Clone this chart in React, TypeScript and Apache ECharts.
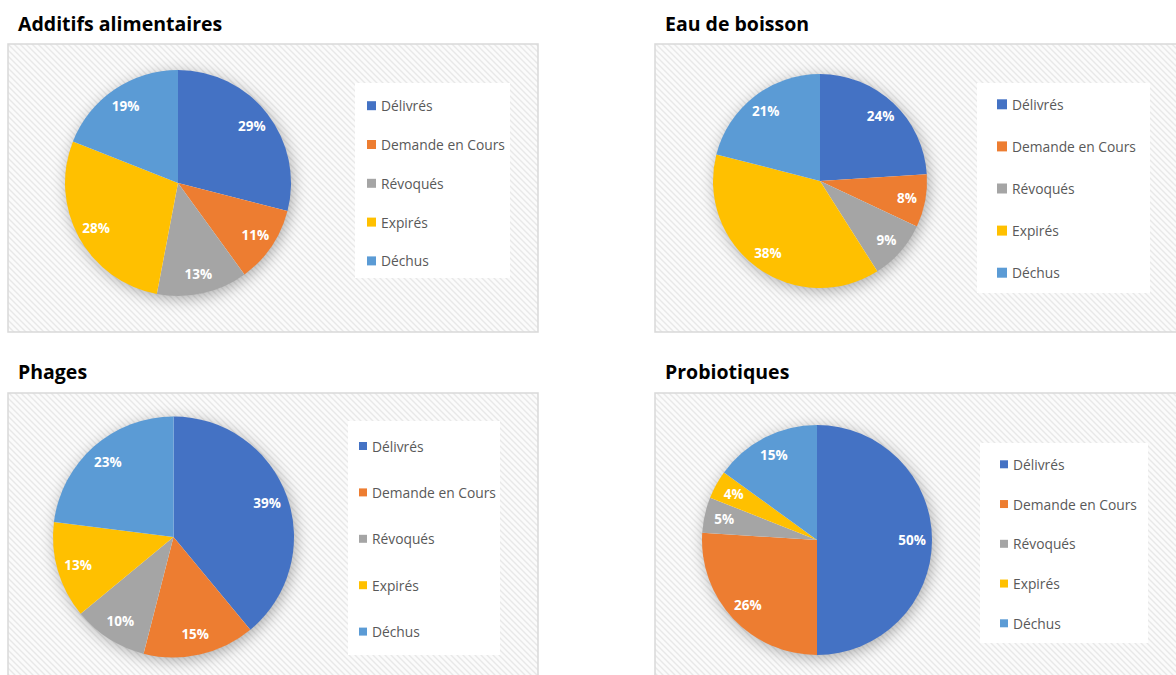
import React, { useEffect, useRef } from "react";
import * as echarts from "echarts";

const categories = ["Délivrés", "Demande en Cours", "Révoqués", "Expirés", "Déchus"];
const colors = ["#4472C4", "#ED7D31", "#A5A5A5", "#FFC000", "#5B9BD5"];

const titles = ["Additifs alimentaires", "Eau de boisson", "Phages", "Probiotiques"];
const additifsValues = [29, 11, 13, 28, 19];
const eauValues = [24, 8, 9, 38, 21];
const phagesValues = [39, 15, 10, 13, 23];
const probiotiquesValues = [50, 26, 5, 4, 15];
const allValues = [additifsValues, eauValues, phagesValues, probiotiquesValues];

// layout (positions/sizes only)
const panels = [
  { box: [8, 44, 530, 288], title: [18, 33], center: [178, 183], r: 113, legendBox: [355, 83, 155, 195], legend: { left: 367, top: 97.7, gap: 22.8, icon: 9 } },
  { box: [655, 44, 530, 288], title: [665, 33], center: [820, 181], r: 107, legendBox: [977, 83, 173, 210], legend: { left: 997, top: 96.3, gap: 26.1, icon: 10 } },
  { box: [8, 393, 530, 300], title: [18, 381], center: [173.5, 537], r: 120.5, legendBox: [348, 421, 152, 234], legend: { left: 359, top: 438, gap: 30.4, icon: 8 } },
  { box: [655, 393, 530, 300], title: [665, 381], center: [817, 540], r: 115, legendBox: [980, 443, 168, 200], legend: { left: 1000, top: 456.3, gap: 23.75, icon: 8 } },
];

function makeHatch() {
  const s = 6;
  const c = document.createElement("canvas");
  c.width = s;
  c.height = s;
  const ctx = c.getContext("2d")!;
  ctx.fillStyle = "#fbfbfb";
  ctx.fillRect(0, 0, s, s);
  ctx.strokeStyle = "#e8e8e8";
  ctx.lineWidth = 1.4;
  ctx.beginPath();
  ctx.moveTo(-1, -1);
  ctx.lineTo(s + 1, s + 1);
  ctx.moveTo(-1, s - 1);
  ctx.lineTo(1, s + 1);
  ctx.moveTo(s - 1, -1);
  ctx.lineTo(s + 1, 1);
  ctx.stroke();
  return { image: c.toDataURL(), repeat: "repeat", imageWidth: s, imageHeight: s };
}

export default function App() {
  const ref = useRef<HTMLDivElement>(null);
  useEffect(() => {
    if (!ref.current) return;
    const chart = echarts.init(ref.current, null, { renderer: "svg" });
    const hatch = makeHatch();
    const graphics: any[] = [];
    panels.forEach((p, i) => {
      graphics.push({
        type: "rect",
        shape: { x: p.box[0], y: p.box[1], width: p.box[2], height: p.box[3] },
        style: { fill: hatch as any, stroke: "#d9d9d9", lineWidth: 1.5 },
        z: 0,
      });
      graphics.push({
        type: "rect",
        shape: { x: p.legendBox[0], y: p.legendBox[1], width: p.legendBox[2], height: p.legendBox[3] },
        style: { fill: "#ffffff" },
        z: 1,
      });
      graphics.push({
        type: "circle",
        shape: { cx: p.center[0], cy: p.center[1], r: p.r - 1 },
        style: { fill: "#ffffff", shadowBlur: 16, shadowOffsetX: 2, shadowOffsetY: 3, shadowColor: "rgba(0,0,0,0.35)" },
        z: 1,
      });
      graphics.push({
        type: "text",
        x: p.title[0],
        y: p.title[1],
        style: {
          text: titles[i],
          fill: "#000000",
          font: "bold 19.5px 'Open Sans'",
          verticalAlign: "bottom",
        },
        z: 2,
      });
    });

    const pieSeries: any[] = panels.map((p, i) => ({
      type: "pie",
      center: p.center,
      radius: [0, p.r],
      startAngle: 90,
      clockwise: true,
      label: { show: false },
      labelLine: { show: false },
      emphasis: { disabled: true },
      itemStyle: { borderWidth: 0 },
      data: categories.map((name, k) => ({ name, value: allValues[i][k], itemStyle: { color: colors[k] } })),
    }));
    const labelSeries: any[] = panels.map((p, i) => ({
      type: "pie",
      center: p.center,
      radius: [p.r * 0.6, p.r],
      startAngle: 90,
      clockwise: true,
      silent: true,
      emphasis: { disabled: true },
      labelLine: { show: false },
      label: {
        show: true,
        position: "inside",
        formatter: "{c}%",
        color: "#ffffff",
        fontFamily: "Open Sans",
        fontWeight: "bold",
        fontSize: 13.5,
      },
      itemStyle: { color: "rgba(0,0,0,0)", borderWidth: 0 },
      data: categories.map((name, k) => ({ name, value: allValues[i][k] })),
    }));

    const legends = panels.map((p) => ({
      data: categories,
      orient: "vertical",
      left: p.legend.left,
      top: p.legend.top,
      itemGap: p.legend.gap,
      itemWidth: p.legend.icon,
      itemHeight: p.legend.icon,
      icon: "rect",
      padding: 0,
      selectedMode: false,
      textStyle: { fontFamily: "Open Sans", fontSize: 13.8, color: "#595959", lineHeight: 16 },
    }));

    chart.setOption({
      animation: false,
      backgroundColor: "#ffffff",
      color: colors,
      graphic: { elements: graphics },
      legend: legends,
      series: [...pieSeries, ...labelSeries],
    });
    return () => chart.dispose();
  }, []);
  return (
    <div
      ref={ref}
      style={{ position: "fixed", left: 0, top: 0, width: 1176, height: 675 }}
    />
  );
}
